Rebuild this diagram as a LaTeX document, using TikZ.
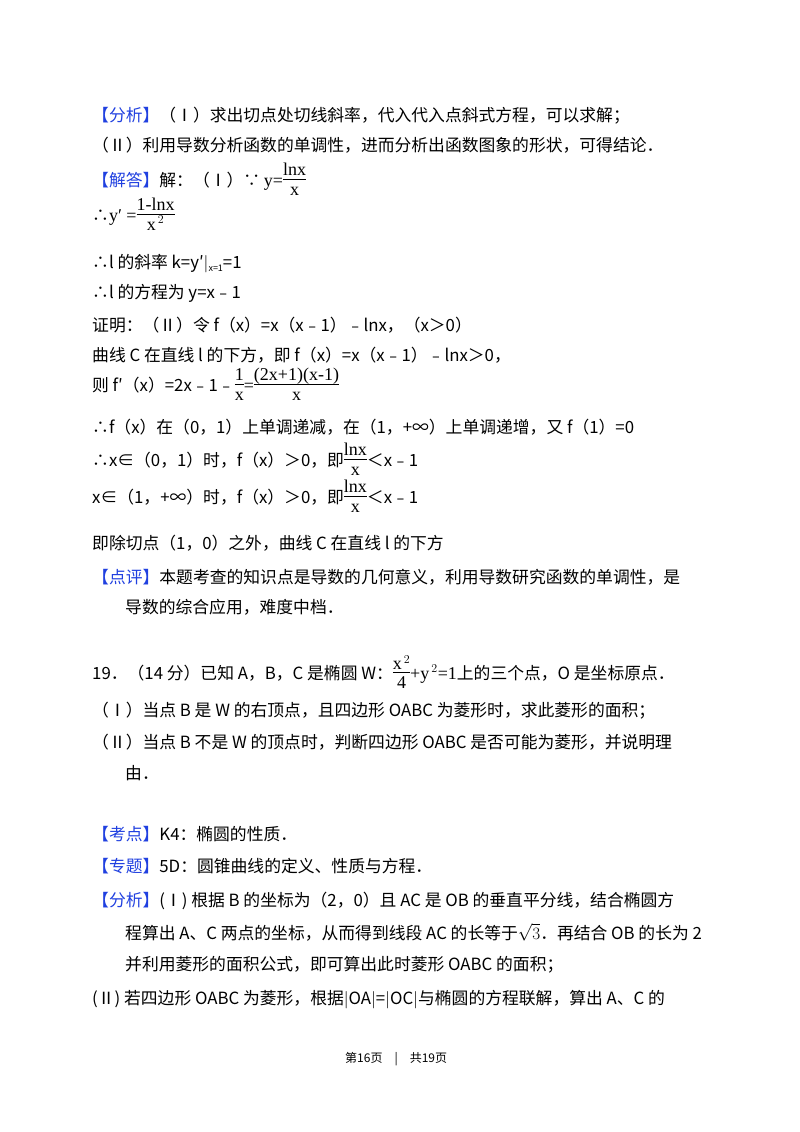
\documentclass[tikz,border=0pt]{standalone}
\usepackage{fontspec}
\setmainfont{Noto Sans CJK SC}
\newfontfamily\frm{Liberation Serif}
\definecolor{kb}{HTML}{2040E0}
\newcommand{\kw}[1]{{\color{kb}【#1】}}
\newcommand{\fs}{\frm\fontsize{18}{19}\selectfont}
\newcommand{\myfr}[2]{{\renewcommand{\arraystretch}{1}\begin{tabular}[c]{@{}c@{}}\fs #1\\[-3pt]\hline\rule{0pt}{16pt}\fs #2\end{tabular}}}
\tikzset{ln/.style={anchor=base west,inner sep=0pt,font=\fontsize{16.8}{19}\selectfont}}
\begin{document}
\begin{tikzpicture}[x=1pt,y=-1pt]
\useasboundingbox[fill=white] (0,0) rectangle (800,1132);
\node[ln] (l1) at (92,121) {\kw{分析}（Ⅰ）求出切点处切线斜率，代入代入点斜式方程，可以求解；};
\node[ln] (l2) at (92,151) {（Ⅱ）利用导数分析函数的单调性，进而分析出函数图象的形状，可得结论．};
\node[ln] (l3) at (92,186) {\kw{解答}解：（Ⅰ）∵ {\fs y=}\myfr{lnx}{x}};
\node[ln] (l4) at (92,221) {∴{\fs y′ =}\myfr{1-lnx}{x$^{\,2}$}};
\node[ln] (l5) at (92,268) {∴l 的斜率 k=y′$|$\raisebox{-3pt}{\fontsize{9}{10}\selectfont x=1}=1};
\node[ln] (l6) at (92,298) {∴l 的方程为 y=x﹣1};
\node[ln] (l7) at (92,331) {证明：（Ⅱ）令 f（x）=x（x﹣1）﹣lnx，（x＞0）};
\node[ln] (l8) at (92,361) {曲线 C 在直线 l 的下方，即 f（x）=x（x﹣1）﹣lnx＞0，};
\node[ln] (l9) at (92,391) {则 f′（x）=2x﹣1﹣\myfr{1}{x}{\fs =}\myfr{(2x+1)(x-1)}{x}};
\node[ln] (l10) at (92,433) {∴f（x）在（0，1）上单调递减，在（1，+∞）上单调递增，又 f（1）=0};
\node[ln] (l11) at (92,466) {∴x∈（0，1）时，f（x）＞0，即\myfr{lnx}{x}＜x﹣1};
\node[ln] (l12) at (92,503) {x∈（1，+∞）时，f（x）＞0，即\myfr{lnx}{x}＜x﹣1};
\node[ln] (l13) at (92,549) {即除切点（1，0）之外，曲线 C 在直线 l 的下方};
\node[ln] (l14) at (92,583) {\kw{点评}本题考查的知识点是导数的几何意义，利用导数研究函数的单调性，是};
\node[ln] (l15) at (125,613) {导数的综合应用，难度中档．};
\node[ln] (l16) at (92,679) {19．（14 分）已知 A，B，C 是椭圆 W：\myfr{x$^{\,2}$}{4}{\fs +y$^{\,2}$=1}上的三个点，O 是坐标原点．};
\node[ln] (l17) at (92,716) {（Ⅰ）当点 B 是 W 的右顶点，且四边形 OABC 为菱形时，求此菱形的面积；};
\node[ln] (l18) at (92,748) {（Ⅱ）当点 B 不是 W 的顶点时，判断四边形 OABC 是否可能为菱形，并说明理};
\node[ln] (l19) at (125,779) {由．};
\node[ln] (l20) at (92,840) {\kw{考点}K4：椭圆的性质．};
\node[ln] (l21) at (92,872) {\kw{专题}5D：圆锥曲线的定义、性质与方程．};
\node[ln] (l22) at (92,906) {\kw{分析}(Ⅰ) 根据 B 的坐标为（2，0）且 AC 是 OB 的垂直平分线，结合椭圆方};
\node[ln] (l23) at (125,939) {程算出 A、C 两点的坐标，从而得到线段 AC 的长等于$\sqrt{3}$．再结合 OB 的长为 2};
\node[ln] (l24) at (125,970) {并利用菱形的面积公式，即可算出此时菱形 OABC 的面积；};
\node[ln] (l25) at (92,1004) {(Ⅱ) 若四边形 OABC 为菱形，根据$|$OA$|$=$|$OC$|$与椭圆的方程联解，算出 A、C 的};
\node[ln,font=\fontsize{12}{14}\selectfont] (ft) at (345,1062) {第16页　|　共19页};
\end{tikzpicture}
\end{document}
